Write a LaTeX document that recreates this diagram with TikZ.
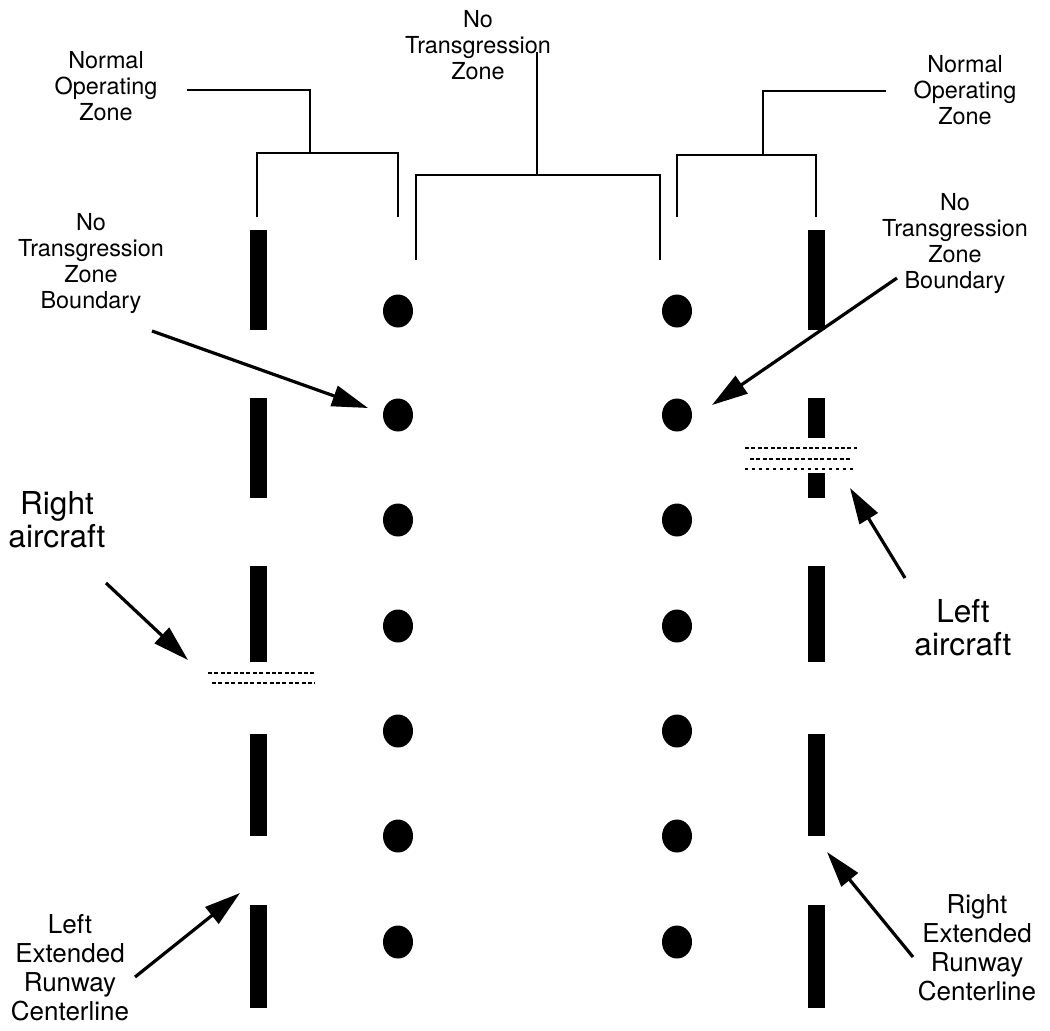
\documentclass[tikz,border=0pt]{standalone}
\usepackage{fontspec}
\setmainfont{TeX Gyre Heros}
\usetikzlibrary{arrows.meta,shapes.geometric}

\begin{document}
\begin{tikzpicture}[x=0.5pt,y=-0.5pt,
  zonetext/.style={align=center, font=\fontsize{11.7}{13}\selectfont, inner sep=0pt},
  runwaytext/.style={align=center, font=\fontsize{13}{14.5}\selectfont, inner sep=0pt},
  acfttext/.style={align=center, font=\fontsize{15.8}{16.5}\selectfont, inner sep=0pt},
  stripe/.style={line width=8.5pt},
  marker/.style={ellipse, fill=black, minimum width=15pt, minimum height=16.5pt, inner sep=0pt},
  bracket/.style={line width=1.1pt},
  pointer/.style={line width=1.6pt, -{Triangle[length=18pt,width=10.5pt]}},
  trail/.style={line width=1.1pt, dash pattern=on 2pt off 1.2pt}
]
\useasboundingbox (0,0) rectangle (1050,1030);

% runway centerlines
\foreach \ya/\yb in {230/330,398/498,566/662,734/836,905/1008}{
  \draw[stripe] (258,\ya) -- (258,\yb);
  \draw[stripe] (816,\ya) -- (816,\yb);
}

% no transgression zone boundaries
\foreach \y [count=\i] in {311,415,520,626,731,836,942}{
  \node[marker] (l\i) at (398,\y) {};
  \node[marker] (r\i) at (677,\y) {};
}

% zone labels
\node[zonetext] (nozl) at (106,86) {Normal\\Operating\\Zone};
\node[zonetext] (nozr) at (965,90) {Normal\\Operating\\Zone};
\node[zonetext] (ntz) at (478,45) {No\\Transgression\\Zone};
\node[zonetext] (ntzbl) at (91,264) {No\\Transgression\\Zone\\Boundary};
\node[zonetext] (ntzbr) at (955,244) {No\\Transgression\\Zone\\Boundary};
\node[acfttext] (racft) at (57,520) {Right\\aircraft};
\node[acfttext] (lacft) at (963,628) {Left\\aircraft};
\node[runwaytext] (lrwy) at (70,968) {Left\\Extended\\Runway\\Centerline};
\node[runwaytext] (rrwy) at (977,948) {Right\\Extended\\Runway\\Centerline};

% brackets
\draw[bracket] (257,217) |- (398,153) -- (398,217);
\draw[bracket] (310,153) |- (187,90);
\draw[bracket] (416,260) |- (660,175) -- (660,260);
\draw[bracket] (537,175) -- (537,52);
\draw[bracket] (677,217) |- (816,155) -- (816,217);
\draw[bracket] (763,155) |- (886,91);

% aircraft
\draw[trail] (208,673) -- (315,673);
\draw[trail] (212,683) -- (315,683);
\fill[white] (800,438) rectangle (832,473);
\draw[trail] (745,448) -- (857,448);
\draw[trail] (750,459) -- (852,459);
\draw[line width=0.6pt, dash pattern=on 1.5pt off 2pt] (745,469) -- (857,469);

% arrows
\coordinate (ntzbl tail) at (152,331);
\coordinate (ntzbl tip) at (368,408);
\coordinate (ntzbr tail) at (897,278);
\coordinate (ntzbr tip) at (712,405);
\coordinate (racft tail) at (106,583);
\coordinate (racft tip) at (188,660);
\coordinate (lacft tail) at (905,578);
\coordinate (lacft tip) at (850,488);
\coordinate (lrwy tail) at (135,977);
\coordinate (lrwy tip) at (240,893);
\coordinate (rrwy tail) at (913,957);
\coordinate (rrwy tip) at (827,852);
\foreach \n in {ntzbl,ntzbr,racft,lacft,lrwy,rrwy}
  \draw[pointer] (\n\space tail) -- (\n\space tip);
\end{tikzpicture}
\end{document}
